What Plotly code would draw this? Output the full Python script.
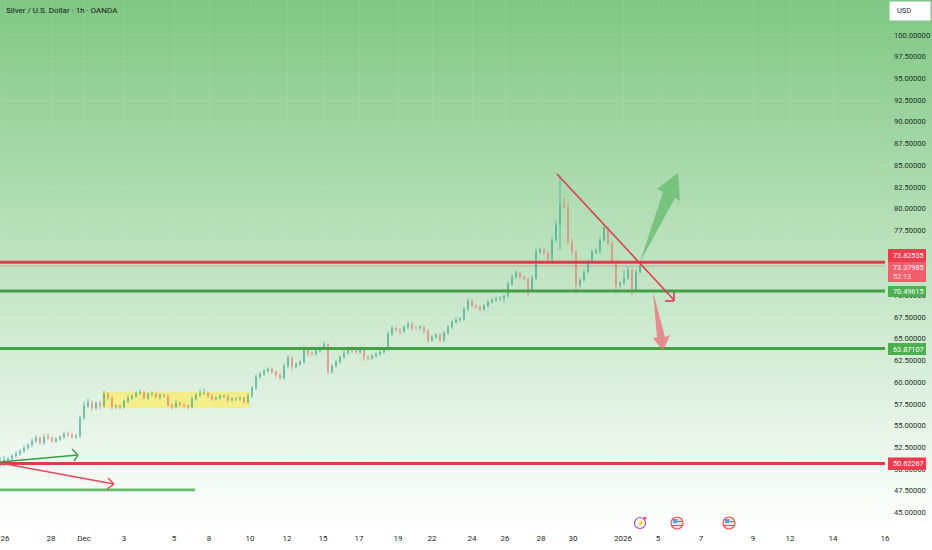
import plotly.graph_objects as go

W, H = 932, 550
PLOT_W, PLOT_H = 885, 524

# Hour position of every candle on the time axis
step_hours = 4
closes = [50.69,51.04,51.15,51.50,51.73,52.07,52.42,52.76,53.22,53.57,53.00,53.69,53.57,53.22,53.46,53.69,54.03,53.92,53.69,53.80,
55.87,57.26,57.60,57.03,57.60,57.26,58.64,58.18,57.14,57.26,57.14,57.83,58.18,58.41,58.75,58.87,58.18,58.64,58.64,58.29,
58.52,58.41,57.37,57.14,57.60,57.37,57.26,57.14,58.06,58.52,58.75,58.75,58.41,58.06,58.18,58.41,58.41,57.95,58.06,58.06,
58.18,57.72,58.41,59.33,60.60,60.95,61.29,61.52,61.18,60.83,60.48,61.86,62.78,61.75,62.09,62.33,63.82,63.36,63.25,63.59,
63.94,64.40,61.18,61.86,62.33,62.90,63.36,63.82,63.59,63.48,63.82,62.90,62.78,63.02,63.25,63.48,63.82,65.55,66.24,66.01,
65.90,66.36,66.70,66.24,66.24,66.36,65.90,64.86,65.21,65.44,64.86,65.67,66.36,66.93,67.16,67.28,68.43,69.36,68.78,68.67,
68.43,68.78,69.24,69.47,69.59,69.70,69.93,71.31,72.12,72.58,72.12,71.89,70.62,72.00,75.00,75.23,74.88,74.19,76.38,78.11,
80.41,80.18,76.15,75.00,71.20,71.77,72.70,73.85,75.00,75.12,76.38,77.76,76.03,73.85,71.20,71.43,72.00,72.93,70.62,72.70,73.38]
opens = [50.45] + closes[:-1]
upper_wicks = [0.7,0.5,0.2,0.2,0.3,0.2,0.3,0.2,0.3,0.3,0.2,0.3,0.4,0.2,0.2,0.2,0.3,0.3,0.2,0.2,
0.3,0.5,0.5,0.3,0.2,0.3,0.4,0.2,0.2,0.2,0.2,0.2,0.3,0.2,0.2,0.3,0.2,0.2,0.3,0.2,
0.2,0.2,0.2,0.2,0.3,0.2,0.2,0.2,0.3,0.2,0.4,0.5,0.2,0.2,0.2,0.2,0.2,0.2,0.2,0.2,
0.2,0.2,0.3,0.2,0.3,0.3,0.2,0.2,0.2,0.2,0.2,0.3,0.3,0.2,0.2,0.2,0.3,0.2,0.2,0.2,
0.2,0.3,0.1,0.2,0.2,0.2,0.3,0.3,0.3,0.2,0.3,0.2,0.2,0.2,0.2,0.2,0.2,0.3,0.3,0.2,
0.2,0.2,0.3,0.2,0.2,0.2,0.2,0.2,0.2,0.2,0.2,0.2,0.2,0.2,0.3,0.2,0.2,0.3,0.2,0.2,
0.2,0.2,0.2,0.2,0.3,0.2,0.2,0.3,0.3,0.3,0.2,0.2,0.2,0.3,0.4,0.3,0.2,0.2,0.3,0.5,
3.46,0.9,0.5,0.4,0.2,0.2,0.3,0.3,0.3,0.3,0.3,0.3,0.2,0.2,0.2,0.2,0.9,0.4,0.2,0.3,0.2]
lower_wicks = [0.3,0.4,0.2,0.2,0.2,0.2,0.2,0.2,0.2,0.2,0.2,0.2,0.2,0.2,0.2,0.2,0.2,0.2,0.2,0.2,
0.2,0.2,0.2,0.3,0.2,0.4,0.2,0.2,0.3,0.2,0.3,0.2,0.2,0.2,0.2,0.2,0.2,0.2,0.2,0.2,
0.3,0.2,0.2,0.3,0.2,0.2,0.2,0.3,0.2,0.2,0.2,0.2,0.2,0.2,0.2,0.2,0.2,0.3,0.2,0.2,
0.2,0.2,0.2,0.2,0.2,0.2,0.2,0.2,0.2,0.3,0.2,0.2,0.2,0.4,0.2,0.2,0.2,0.4,0.2,0.2,
0.2,0.2,0.3,0.2,0.2,0.2,0.2,0.2,0.2,0.2,0.2,0.4,0.3,0.2,0.2,0.2,0.2,0.2,0.2,0.2,
0.4,0.2,0.2,0.3,0.2,0.2,0.3,0.3,0.2,0.2,0.3,0.2,0.2,0.2,0.2,0.2,0.2,0.2,0.2,0.2,
0.3,0.2,0.2,0.2,0.2,0.2,0.5,0.2,0.2,0.2,0.2,0.2,0.7,0.2,0.2,0.2,0.2,0.2,0.2,0.2,
2.88,0.2,0.2,0.4,0.9,0.3,0.2,0.2,0.2,0.2,0.3,0.2,0.2,0.2,0.9,0.3,0.2,0.2,0.6,0.2,0.2]
highs = [max(o, c) + w for o, c, w in zip(opens, closes, upper_wicks)]
lows = [min(o, c) - w for o, c, w in zip(opens, closes, lower_wicks)]
hours = [i * step_hours for i in range(len(closes))]

price_ticks = [45 + 2.5 * i for i in range(23)]
time_tick_hours = [5, 51, 84, 124, 174, 209, 250, 287, 323, 359, 398, 432, 472, 505, 541, 573, 623, 658, 701, 753, 790, 833, 885]
time_tick_labels = ["26", "28", "Dec", "3", "5", "8", "10", "12", "15", "17", "19", "22", "24", "26", "28", "30", "2026", "5", "7", "9", "12", "14", "16"]

level_resistance = 73.82535
level_last = 73.37985
level_support = 70.49615
level_mid = 63.87107
level_low = 50.62267
level_old = 47.6
RED, GREEN = "#e23a4c", "#43a047"
GRID = "rgba(240,243,250,0.09)"


def px(x):
    return x / PLOT_W


def py(y):
    return 1 - y / PLOT_H


shapes = []
# background wash, page wide
top = (127, 199, 131)
for y0 in range(0, H, 5):
    t = min(1, (y0 + 2.5) / 530)
    c = tuple(round(a + (255 - a) * t) for a in top)
    shapes.append(dict(type="rect", xref="paper", yref="paper", x0=px(0), x1=px(W), y0=py(y0), y1=py(y0 + 6),
                       fillcolor=f"rgb{c}", line_width=0, layer="below"))


def line(x0, p0, x1, p1, color, width, layer="above"):
    shapes.append(dict(type="line", xref="x", yref="y", x0=x0, y0=p0, x1=x1, y1=p1,
                       line=dict(color=color, width=width), layer=layer))


# yellow range box
shapes.append(dict(type="rect", xref="x", yref="y", x0=102, x1=250, y0=57.03, y1=58.87,
                   fillcolor="rgba(255,235,80,0.62)", line_width=0, layer="below"))

line(0, level_last, PLOT_W, level_last, "rgba(226,58,76,0.35)", 1)
line(0, level_resistance, PLOT_W, level_resistance, RED, 3)
line(0, level_support, PLOT_W, level_support, GREEN, 3)
line(0, level_mid, PLOT_W, level_mid, GREEN, 3)
line(0, level_low, PLOT_W, level_low, RED, 3)
line(0, level_old, 195, level_old, "#66bb6a", 2.6)

# trend arrows
line(557, 83.99, 674, 69.47, "#d9404f", 1.6)
line(665, 69.36, 674, 69.36, "#d9404f", 1.6)
line(674, 69.36, 674, 70.40, "#d9404f", 1.6)
line(0, 50.81, 78, 51.61, "#3f9a48", 1.4)
line(72, 52.30, 78, 51.61, "#3f9a48", 1.4)
line(74, 50.92, 78, 51.61, "#3f9a48", 1.4)
line(0, 50.69, 114, 48.27, "#e2475a", 1.4)
line(108, 48.96, 114, 48.27, "#e2475a", 1.4)
line(107, 47.69, 114, 48.27, "#e2475a", 1.4)


def polygon(points, fill):
    d = "M" + " L".join(f"{x},{p}" for x, p in points) + " Z"
    shapes.append(dict(type="path", xref="x", yref="y", path=d, fillcolor=fill, line_width=0, layer="above"))


polygon([(640, 73.85), (663, 81.91), (657, 82.26), (678, 84.10), (680, 80.88), (675, 81.22)], "rgba(96,186,104,0.72)")
polygon([(653, 70.39), (657, 65.21), (653, 65.09), (663, 63.59), (670, 65.44), (665, 65.21)], "rgba(236,104,116,0.72)")


def rect(x0, y0, x1, y1, fill):
    shapes.append(dict(type="rect", xref="paper", yref="paper", x0=px(x0), x1=px(x1), y0=py(y0), y1=py(y1),
                       fillcolor=fill, line_width=0, layer="above"))


# price tags on the scale
rect(888, 249, 926, 262, "#ef3b4e")
rect(888, 262, 926, 282, "#f0606c")
rect(888, 286, 926, 297, "#4caf50")
rect(888, 343, 926, 355, "#4caf50")
rect(888, 457.5, 926, 470, "#ef3b4e")

# USD button
shapes.append(dict(type="rect", xref="paper", yref="paper", x0=px(890), x1=px(930), y0=py(2), y1=py(20),
                   fillcolor="white", line=dict(color="white", width=1), layer="above"))


def circle(cx, cy, r, fill, color, width=1):
    shapes.append(dict(type="circle", xref="paper", yref="paper", x0=px(cx - r), x1=px(cx + r), y0=py(cy - r), y1=py(cy + r),
                       fillcolor=fill, line=dict(color=color, width=width), layer="above"))


# event markers
circle(640, 523, 5.5, "rgba(255,255,255,0.7)", "#ab47bc", 1.2)
circle(645, 518, 1.5, "#ef5350", "#ef5350", 0)
for cx in (677, 729):
    circle(cx, 523, 6, "#fbe3e3", "#ef5350", 1.2)
    rect(cx - 4, 519, cx + 0.5, 523, "#5c9fe0")
    rect(cx - 5, 525, cx + 5, 526, "#ef5350")
    rect(cx + 0.5, 521, cx + 5, 522, "#ef5350")

annotations = []


def text(x, y, s, color, size=8, anchor="left"):
    annotations.append(dict(xref="paper", yref="paper", x=px(x), y=py(y), text=s, showarrow=False,
                            xanchor=anchor, yanchor="middle", borderpad=0,
                            font=dict(family="Roboto", size=size, color=color)))


text(5, 11, "Silver / U.S. Dollar · 1h · OANDA", "#132018", 8)
text(896, 11, "USD", "#2a2e39", 7.5)
text(892, 255, f"{level_resistance:.5f}", "white", 7.3)
text(892, 267, f"{level_last:.5f}", "white", 7.3)
text(892, 276, "52:13", "#ffdfe2", 7.3)
text(892, 291.5, f"{level_support:.5f}", "white", 7.3)
text(892, 349, f"{level_mid:.5f}", "white", 7.3)
text(892, 463.5, f"{level_low:.5f}", "white", 7.3)
text(640, 523, "⚡", "#ab47bc", 6, "center")

fig = go.Figure(go.Candlestick(
    x=hours, open=opens, high=highs, low=lows, close=closes,
    increasing=dict(line=dict(color="#37a88f", width=0.8), fillcolor="#37a88f"),
    decreasing=dict(line=dict(color="#e8786f", width=0.8), fillcolor="#e8786f"),
    whiskerwidth=0, opacity=0.9, showlegend=False,
))

fig.update_layout(
    width=W, height=H, autosize=False, boxgap=0.85,
    margin=dict(l=0, r=W - PLOT_W, t=0, b=H - PLOT_H),
    paper_bgcolor="white", plot_bgcolor="rgba(0,0,0,0)",
    showlegend=False, shapes=shapes, annotations=annotations,
    font=dict(family="Roboto", color="#1d3324"),
    xaxis=dict(range=[0, PLOT_W], tickmode="array", tickvals=time_tick_hours, ticktext=time_tick_labels,
               showgrid=True, gridcolor=GRID, gridwidth=1, zeroline=False, showline=False,
               rangeslider=dict(visible=False), ticks="", tickfont=dict(size=8, color="#1d2a22"), ticklabelstandoff=8),
    yaxis=dict(range=[100 - (PLOT_H - 35) / 8.68, 100 + 35 / 8.68], side="right", tickmode="array", tickvals=price_ticks,
               tickformat=".5f", showgrid=True, gridcolor=GRID, gridwidth=1, zeroline=False, showline=False,
               ticks="", tickfont=dict(size=7.6, color="#1d3324"), ticklabelstandoff=8),
)
fig.write_html("out.html", config=dict(displayModeBar=False),
               post_script="document.body.style.margin='0';document.body.style.overflow='hidden';")
